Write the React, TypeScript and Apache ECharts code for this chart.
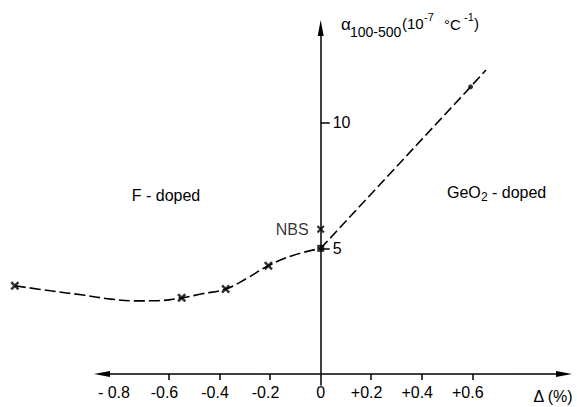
import React, { useEffect, useRef } from "react";
import * as echarts from "echarts";

// F-doped fitted curve
const fCurveX = [-1.21, -1.07, -0.94, -0.83, -0.74, -0.64, -0.55, -0.47, -0.376, -0.29, -0.207, -0.11, 0];
const fCurveY = [3.51, 3.31, 3.14, 2.98, 2.91, 2.92, 3.03, 3.19, 3.38, 3.82, 4.31, 4.72, 5.0];
// F-doped measured points (crosses)
const fPointX = [-1.21, -0.55, -0.376, -0.207];
const fPointY = [3.51, 3.03, 3.38, 4.31];
// pure silica point (square)
const silicaX = [0];
const silicaY = [5.0];
// NBS reference
const nbsX = [0];
const nbsY = [5.76];
// GeO2-doped line
const geLineX = [0, 0.593, 0.654];
const geLineY = [5.0, 11.43, 12.1];
const gePointX = [0.593];
const gePointY = [11.43];
// ticks
const xTickValues = [-0.6, -0.4, -0.2, 0.2, 0.4, 0.6];
const xLabelValues = [-0.8, -0.6, -0.4, -0.2, 0, 0.2, 0.4, 0.6];
const yTickValues = [5, 10];

const FONT = "Liberation Sans, Arial, sans-serif";
const CROSS =
  "path://M0,2L2,0L5,3L8,0L10,2L7,5L10,8L8,10L5,7L2,10L0,8L3,5Z";

const zip = (xs: number[], ys: number[]) => xs.map((x, i) => [x, ys[i]]);

export default function App() {
  const ref = useRef<HTMLDivElement>(null);
  useEffect(() => {
    document.body.style.margin = "0";
    const chart = echarts.init(ref.current!, null, { renderer: "svg" });
    const txt = (text: string, x: number, y: number, size: number, align = "left") => ({
      type: "text",
      x,
      y,
      style: {
        text,
        fill: "#000",
        fontSize: size,
        fontFamily: FONT,
        align,
        verticalAlign: "middle",
        textAlign: align,
        textVerticalAlign: "middle",
      },
    });
    const axisLineStyle = { color: "#000", width: 1.5 };
    const hidden = { show: false };
    const dataSeries = { xAxisIndex: 0, yAxisIndex: 0, clip: false };
    chart.setOption({
      animation: false,
      backgroundColor: "#fff",
      grid: [
        // data area: the whole canvas
        { left: 0, right: 0, top: 0, bottom: 0 },
        // horizontal axis
        { left: 102, right: 13, top: 0, bottom: 33.05 },
        // vertical axis (line on the right edge of this grid)
        { left: 0, right: 256.3, top: 28, bottom: 22 },
      ],
      xAxis: [
        { gridIndex: 0, type: "value", min: -1.2688, max: 1.014, ...hidden },
        {
          gridIndex: 1,
          type: "value",
          min: -0.865,
          max: 0.963,
          axisLine: {
            onZero: false,
            symbol: ["triangle", "triangle"],
            symbolSize: [6, 16],
            lineStyle: axisLineStyle,
          },
          axisTick: { show: true, customValues: xTickValues, length: 6, lineStyle: axisLineStyle },
          axisLabel: {
            customValues: xLabelValues,
            margin: 11,
            color: "#000",
            fontSize: 16,
            fontFamily: FONT,
            formatter: (v: number) => {
              if (Math.abs(v) < 1e-9) return "0";
              const a = Math.abs(v).toFixed(1);
              if (v < -0.75) return "{s|- " + a + "}";
              return "{s|" + (v < 0 ? "-" : "+") + a + "}";
            },
            rich: { s: { fontSize: 16, fontFamily: FONT, color: "#000", padding: [0, 9, 0, 0] } },
          },
          splitLine: hidden,
        },
        { gridIndex: 2, type: "value", min: 0, max: 1, ...hidden },
      ],
      yAxis: [
        { gridIndex: 0, type: "value", min: -1.3157, max: 14.887, ...hidden },
        { gridIndex: 1, type: "value", min: 0, max: 1, ...hidden },
        {
          gridIndex: 2,
          type: "value",
          position: "right",
          min: -0.44,
          max: 13.77,
          axisLine: {
            show: true,
            onZero: false,
            symbol: ["none", "triangle"],
            symbolSize: [6, 16],
            lineStyle: axisLineStyle,
          },
          axisTick: { show: true, customValues: yTickValues, length: 9, lineStyle: axisLineStyle },
          axisLabel: {
            customValues: yTickValues,
            margin: 12,
            color: "#000",
            fontSize: 16,
            fontFamily: FONT,
          },
          splitLine: hidden,
        },
      ],
      series: [
        {
          ...dataSeries,
          type: "line",
          data: zip(fCurveX, fCurveY),
          smooth: 0.4,
          showSymbol: false,
          lineStyle: { color: "#000", width: 1.6, type: [11, 4] },
        },
        {
          ...dataSeries,
          type: "scatter",
          data: zip(fPointX, fPointY),
          symbol: CROSS,
          symbolSize: 9,
          itemStyle: { color: "#000" },
        },
        {
          ...dataSeries,
          type: "line",
          data: zip(geLineX, geLineY),
          showSymbol: false,
          lineStyle: { color: "#000", width: 1.6, type: [10, 4] },
        },
        {
          ...dataSeries,
          type: "scatter",
          data: zip(gePointX, gePointY),
          symbol: "circle",
          symbolSize: 5,
          itemStyle: { color: "#000" },
        },
        {
          ...dataSeries,
          type: "scatter",
          data: zip(silicaX, silicaY),
          symbol: "rect",
          symbolSize: 7,
          itemStyle: { color: "#000" },
        },
        {
          ...dataSeries,
          type: "scatter",
          data: zip(nbsX, nbsY),
          symbol: CROSS,
          symbolSize: 8,
          itemStyle: { color: "#000" },
          label: {
            show: true,
            position: "left",
            distance: 8,
            formatter: "NBS",
            color: "#000",
            fontSize: 16,
            fontFamily: FONT,
          },
        },
      ],
      graphic: [
        txt("α", 341, 24, 17),
        txt("100-500", 350, 32, 14),
        txt("(10", 402, 23, 15),
        txt("-7", 424, 17, 11),
        txt("°C", 444, 24, 15),
        txt("-1", 464, 17, 11),
        txt(")", 474, 23, 15),
        txt("F - doped", 166, 195, 16, "center"),
        txt("GeO", 447, 192, 16),
        txt("2", 481, 197, 12),
        txt("- doped", 492, 192, 16),
        txt("Δ (%)", 553, 396, 16, "center"),
      ],
    });
    return () => chart.dispose();
  }, []);
  return (
    <div
      ref={ref}
      style={{ width: 577, height: 407, position: "fixed", left: 0, top: 0, background: "#fff" }}
    />
  );
}
